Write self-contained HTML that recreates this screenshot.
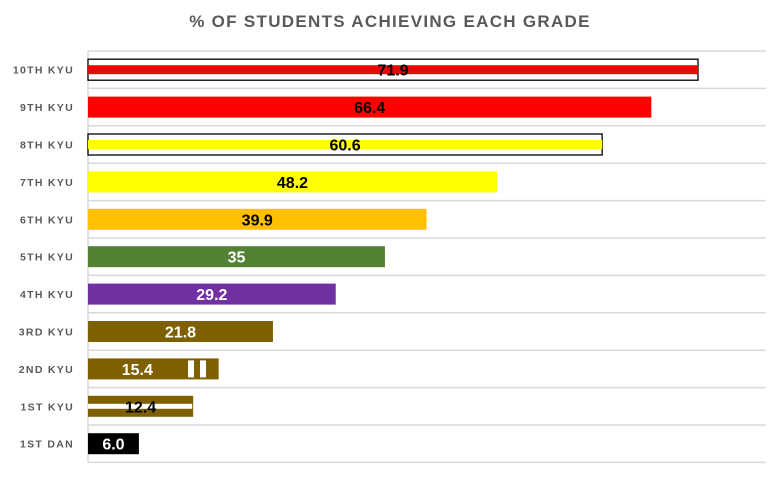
<!DOCTYPE html>
<html><head><meta charset="utf-8"><style>
body{margin:0;background:#fff;width:780px;height:476px;overflow:hidden;font-family:"Liberation Sans",sans-serif}
</style></head><body>
<svg width="780" height="476" xmlns="http://www.w3.org/2000/svg">
<text x="390" y="27" text-anchor="middle" font-size="17" font-weight="bold" fill="#595959" letter-spacing="1.3">% OF STUDENTS ACHIEVING EACH GRADE</text>
<g id="grid"></g><g id="bars"></g>
</svg>
<script>
const categories=["10TH KYU","9TH KYU","8TH KYU","7TH KYU","6TH KYU","5TH KYU","4TH KYU","3RD KYU","2ND KYU","1ST KYU","1ST DAN"];
const values=[71.9,66.4,60.6,48.2,39.9,35,29.2,21.8,15.4,12.4,6.0];
const valueLabels=["71.9","66.4","60.6","48.2","39.9","35","29.2","21.8","15.4","12.4","6.0"];
const colors=["#e80808","#ff0000","#ffff00","#ffff00","#ffc000","#548235","#7030a0","#7f6000","#7f6000","#7f6000","#000000"];
const labelColors=["#000","#000","#000","#000","#000","#fff","#fff","#fff","#fff","#000","#fff"];
const NS="http://www.w3.org/2000/svg";
const x0=88,top0=51,pitch=37.4,scale=8.484;
const xs=v=>x0+v*scale, yc=i=>top0+pitch*(i+0.5);
const grid=document.getElementById('grid'),bars=document.getElementById('bars');
function mk(tag,attrs,parent){const e=document.createElementNS(NS,tag);for(const k in attrs)e.setAttribute(k,attrs[k]);parent.appendChild(e);return e;}
for(let i=0;i<=categories.length;i++){
 const l=mk('line',{x1:x0,x2:766,y1:top0+pitch*i,y2:top0+pitch*i,stroke:'#d9d9d9','stroke-width':1.5},grid);
 
 
}
const ax=mk('line',{x1:x0,x2:x0,y1:top0,y2:top0+pitch*categories.length,stroke:'#d9d9d9','stroke-width':1.5},grid);


categories.forEach((c,i)=>{
 const y=yc(i),w=xs(values[i])-x0;
 const t=mk('text',{x:74,y:y+4,'text-anchor':'end','font-size':10.5,'font-weight':'bold',fill:'#595959','letter-spacing':1.3},bars);
 t.textContent=c;
 
 
 let b;
 if(i===0||i===2){
  const o=mk('rect',{x:x0,y:y-10.5,width:w,height:21,fill:'#fff',stroke:'#000','stroke-width':1.3},bars);
  
  
  b=mk('rect',{x:x0,y:y-4.5,width:w,height:9,fill:colors[i]},bars);
 } else {
  b=mk('rect',{x:x0,y:y-10.5,width:w,height:21,fill:colors[i]},bars);
 }
 
 
 if(i===9){
  const s=mk('rect',{x:x0,y:y-2.5,width:w-1,height:5,fill:'#fff'},bars);
  
  
 }
 if(i===8){
  [188,200].forEach(px=>{const s=mk('rect',{x:px,y:y-8.5,width:6,height:17,fill:'#fff'},bars);
  
  });
 }
 const lx=i===8?x0+w*0.5-16:x0+w/2;
 const v=mk('text',{x:lx,y:y+6,'text-anchor':'middle','font-size':16,'font-weight':'bold',fill:labelColors[i]},bars);
 v.textContent=valueLabels[i];
 
 
});
</script>
</body></html>
